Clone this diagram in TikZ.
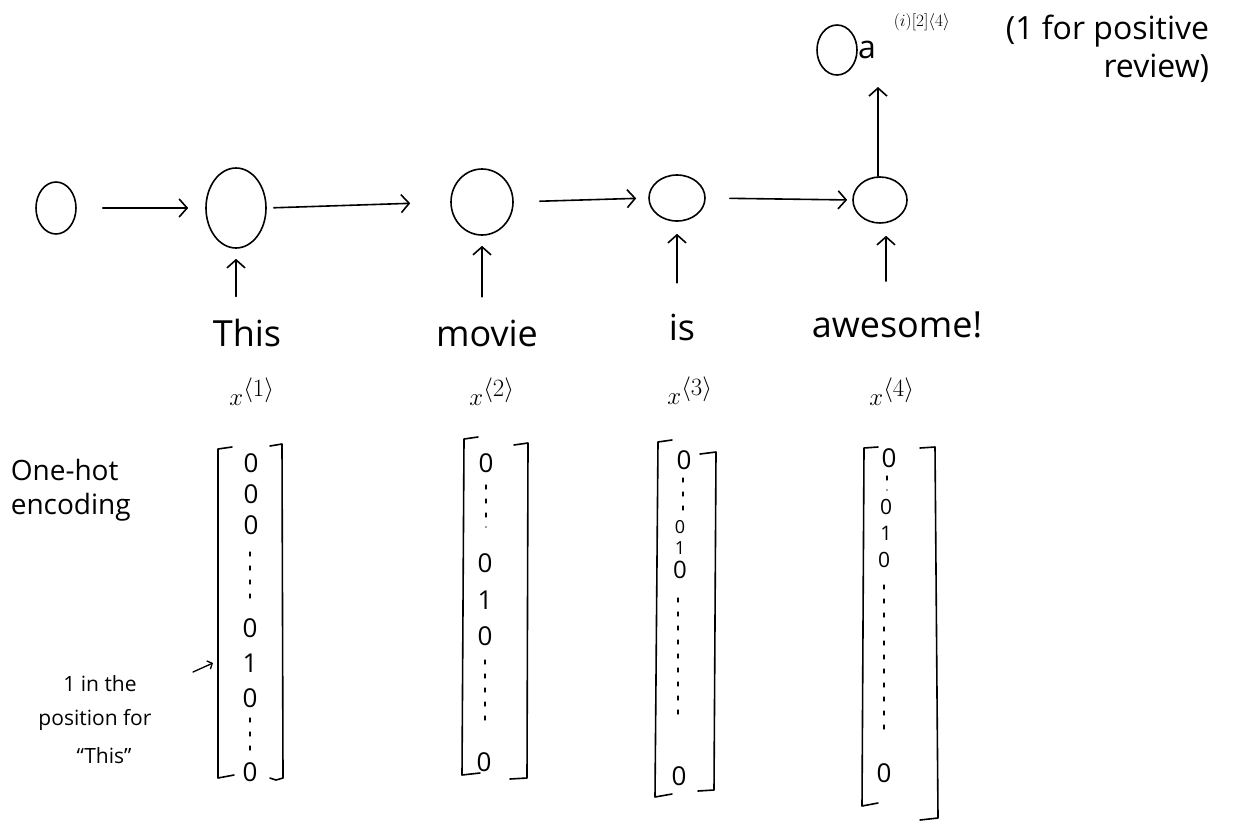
\documentclass[tikz,border=0pt]{standalone}
\usepackage{fontspec}
\setmainfont{Open Sans}
\usetikzlibrary{arrows.meta,shapes.geometric}
\begin{document}
\begin{tikzpicture}[x=1pt,y=-1pt, line width=1.6pt, line cap=round, line join=round,
 cell/.style={ellipse, draw, inner sep=0pt},
 arr/.style={-{Straight Barb[length=8pt,width=18pt]}},
 word/.style={font=\fontsize{36}{40}\selectfont, inner sep=0pt},
 xlab/.style={font=\fontsize{38}{40}\selectfont, inner sep=0pt},
 ent/.style={font=\fontsize{26}{28}\selectfont, inner sep=0pt},
 dotcol/.style={line width=1.3pt, dash pattern=on 4pt off 10pt},
 note/.style={font=\fontsize{28}{34}\selectfont, inner sep=0pt},
 pnote/.style={font=\fontsize{21}{23}\selectfont, inner sep=0pt}]
\useasboundingbox (0,0) rectangle (1238,820);

% hidden-state nodes
\node[cell, minimum width=40pt, minimum height=52pt] (h0) at (56,208) {};
\node[cell, minimum width=60pt, minimum height=80pt] (h1) at (236,208) {};
\node[cell, minimum width=62pt, minimum height=66pt] (h2) at (482,202) {};
\node[cell, minimum width=56pt, minimum height=46pt] (h3) at (677,198) {};
\node[cell, minimum width=54pt, minimum height=46pt] (h4) at (880,200) {};
\node[cell, minimum width=40pt, minimum height=50pt] (out) at (837,50) {};

% horizontal connectors
\draw[arr, shorten <=26pt, shorten >=17pt] (h0.east) -- (h1.west);
\draw[arr, shorten <=7pt, shorten >=40pt] (h1.east) -- (h2.west);
\draw[arr, shorten <=26pt, shorten >=12pt] (h2.east) -- (h3.west);
\draw[arr, shorten <=24pt, shorten >=5pt] (h3.east) -- (h4.west);
\draw[arr, shorten >=12pt] (h4.north -| 878,0) -- (878,75);

% output label
\node[font=\fontsize{32}{34}\selectfont, inner sep=0pt] (alab) at (867,50) {a};
\node[font=\fontsize{19}{20}\selectfont, inner sep=0pt, anchor=west] (asup) at (893,22) {$(i)[2]\langle 4\rangle$};
\node[note, font=\fontsize{32}{38}\selectfont, align=right, anchor=north west] (pos) at (1005,14) {(1 for positive\\review)};

% words
\node[word] (w1) at (247,333) {This};
\node[word] (w2) at (487,333) {movie};
\node[word] (w3) at (682,327) {is};
\node[word] (w4) at (897,325) {awesome!};

\draw[arr, shorten <=22pt, shorten >=10pt] (h1 |- w1.north) -- (h1.south);
\draw[arr, shorten <=22pt, shorten >=10pt] (h2 |- w2.north) -- (h2.south);
\draw[arr, shorten <=30pt, shorten >=12pt] (h3 |- w3.north) -- (h3.south);
\draw[arr, shorten <=30pt, shorten >=12pt] (886,0 |- w4.north) -- (886,0 |- h4.south);

% x labels
\node[xlab] (x1) at (252,392) {$x^{\langle 1\rangle}$};
\node[xlab] (x2) at (492,392) {$x^{\langle 2\rangle}$};
\node[xlab] (x3) at (690,391) {$x^{\langle 3\rangle}$};
\node[xlab] (x4) at (892,392) {$x^{\langle 4\rangle}$};

% side notes
\node[note, align=left, anchor=west] (onehot) at (10,490) {One-hot\\encoding};
\node[pnote] (pn1) at (100,684) {1 in the};
\node[pnote] (pn2) at (95,720) {position for};
\node[pnote] (pn3) at (104,756) {``This''};
\coordinate (pa) at (193,672);

% vector 1
\draw (232,447) -- (218,449) -- (218,778) -- (234,775);
\draw (270,446) -- (282,444) -- (283,778) -- (276,780) -- (270,778);
\node[ent] (v1a) at (251,463) {0};
\node[ent] (v1b) at (251,494) {0};
\node[ent] (v1c) at (251,525) {0};
\draw[dotcol] (250,552) -- (250,598);
\node[ent] (v1d) at (250,628) {0};
\node[ent] (v1e) at (250,663) {1};
\node[ent] (v1f) at (250,698) {0};
\draw[dotcol] (250,718) -- (250,752);
\node[ent] (v1g) at (250,772) {0};
\draw[-{Straight Barb[length=4pt,width=9pt]}, line width=1.3pt] (pa) -- (v1e.west -| 213,0);

% vector 2
\draw (478,437) -- (464,439) -- (462,775) -- (480,773);
\draw (514,445) -- (528,443) -- (527,778) -- (510,779);
\node[ent] (v2a) at (486,463) {0};
\draw[dotcol] (486,485) -- (486,527);
\node[ent] (v2b) at (485,563) {0};
\node[ent] (v2c) at (485,600) {1};
\node[ent] (v2d) at (485,636) {0};
\draw[dotcol] (485,660) -- (485,728);
\node[ent] (v2e) at (484,762) {0};

% vector 3
\draw (672,440) -- (658,442) -- (655,797) -- (672,794);
\draw (700,454) -- (716,452) -- (714,790) -- (698,791);
\node[ent] (v3a) at (684,460) {0};
\draw[dotcol] (683,478) -- (683,512);
\node[ent, font=\fontsize{18}{20}\selectfont] (v3b) at (680,527) {0};
\node[ent, font=\fontsize{18}{20}\selectfont] (v3c) at (680,548) {1};
\node[ent, font=\fontsize{24}{26}\selectfont] (v3d) at (680,570) {0};
\draw[dotcol] (678,598) -- (678,722);
\node[ent] (v3e) at (679,776) {0};

% vector 4
\draw (878,447) -- (864,448) -- (862,806) -- (878,803);
\draw (920,448) -- (935,447) -- (938,818) -- (920,820);
\node[ent] (v4a) at (889,458) {0};
\draw[dotcol] (887,476) -- (887,490);
\node[ent, font=\fontsize{21}{22}\selectfont] (v4b) at (886,507) {0};
\node[ent, font=\fontsize{20}{22}\selectfont] (v4c) at (886,533) {1};
\node[ent, font=\fontsize{21}{22}\selectfont] (v4d) at (884,560) {0};
\draw[dotcol] (884,585) -- (884,730);
\node[ent] (v4e) at (884,773) {0};
\end{tikzpicture}
\end{document}
